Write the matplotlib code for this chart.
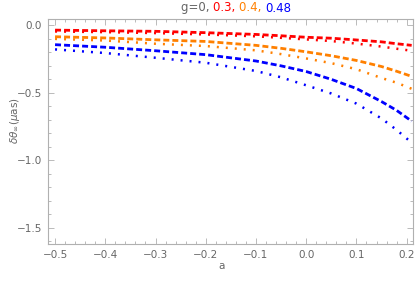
import matplotlib
matplotlib.use("Agg")
import matplotlib.pyplot as plt
from matplotlib.ticker import MultipleLocator, FixedLocator

a = [-0.5, -0.4, -0.3, -0.2, -0.1, -0.05, 0.0, 0.05, 0.1, 0.15, 0.18, 0.21]
red_dash = [-0.035, -0.040, -0.044, -0.054, -0.067, -0.077, -0.088, -0.095, -0.108, -0.122, -0.136, -0.148]
red_dot = [-0.045, -0.050, -0.057, -0.067, -0.081, -0.092, -0.104, -0.116, -0.135, -0.157, -0.173, -0.188]
orange_dash = [-0.084, -0.093, -0.107, -0.119, -0.148, -0.170, -0.196, -0.225, -0.260, -0.305, -0.340, -0.378]
orange_dot = [-0.100, -0.112, -0.136, -0.153, -0.185, -0.213, -0.245, -0.280, -0.325, -0.390, -0.425, -0.470]
blue_dash = [-0.143, -0.162, -0.188, -0.217, -0.264, -0.300, -0.342, -0.400, -0.468, -0.565, -0.630, -0.710]
blue_dot = [-0.178, -0.205, -0.240, -0.277, -0.338, -0.385, -0.444, -0.505, -0.580, -0.690, -0.775, -0.870]

RED = (1, 0, 0)
ORANGE = (1, 0.5, 0)
BLUE = (0, 0, 1)
GRAY = "#666666"
FRAME = "#b0b0b0"

fig = plt.figure(figsize=(4.15, 2.82), dpi=100)
ax = fig.add_axes([0.1145, 0.1337, 0.995 - 0.1145, 0.931 - 0.1337])

dash = (0, (2.15, 1.1))
dot = (0, (0.8, 2.8))
LWD, LWO = 2.0, 1.8
ax.plot(a, red_dash, color=RED, lw=LWD, ls=dash)
ax.plot(a, red_dot, color=RED, lw=LWO, ls=dot)
ax.plot(a, orange_dash, color=ORANGE, lw=LWD, ls=dash)
ax.plot(a, orange_dot, color=ORANGE, lw=LWO, ls=dot)
ax.plot(a, blue_dash, color=BLUE, lw=LWD, ls=dash)
ax.plot(a, blue_dot, color=BLUE, lw=LWO, ls=dot)

ax.set_xlim(-0.515, 0.2125)
ax.set_ylim(-1.623, 0.044)

ax.xaxis.set_major_locator(FixedLocator([-0.5, -0.4, -0.3, -0.2, -0.1, 0.0, 0.1, 0.2]))
ax.xaxis.set_minor_locator(MultipleLocator(0.02))
ax.yaxis.set_major_locator(FixedLocator([0.0, -0.5, -1.0, -1.5]))
ax.yaxis.set_minor_locator(MultipleLocator(0.1))
ax.set_xticklabels(["\u22120.5", "\u22120.4", "\u22120.3", "\u22120.2", "\u22120.1", "0.0", "0.1", "0.2"])
ax.set_yticklabels(["0.0", "\u22120.5", "\u22121.0", "\u22121.5"])

for s in ax.spines.values():
    s.set_color(FRAME)
    s.set_linewidth(0.8)
ax.tick_params(which="both", direction="in", top=True, right=True, color=FRAME,
               labelcolor=GRAY, labelsize=7.5, width=0.6)
ax.tick_params(which="major", length=4, pad=4)
ax.tick_params(which="minor", length=2)

ax.set_xlabel("a", color=GRAY, fontsize=7.5)
ax.xaxis.set_label_coords(0.475, -0.074)
ax.set_ylabel(r"$\delta\theta_\infty(\mu\mathrm{as})$", color=GRAY, fontsize=7.5)
ax.yaxis.set_label_coords(-0.07, 0.55)

# Title with colored parts
parts = [("g=0, ", GRAY), ("0.3, ", RED), ("0.4, ", ORANGE), ("0.48", BLUE)]
x0 = 181 / 415
y0 = 1 - 8 / 282
renderer = fig.canvas.get_renderer()
x = x0
for txt, col in parts:
    t = fig.text(x, y0, txt, color=col, fontsize=8.5, va="center", ha="left")
    bb = t.get_window_extent(renderer=renderer)
    x += bb.width / fig.bbox.width

fig.savefig("out.png", dpi=100)
